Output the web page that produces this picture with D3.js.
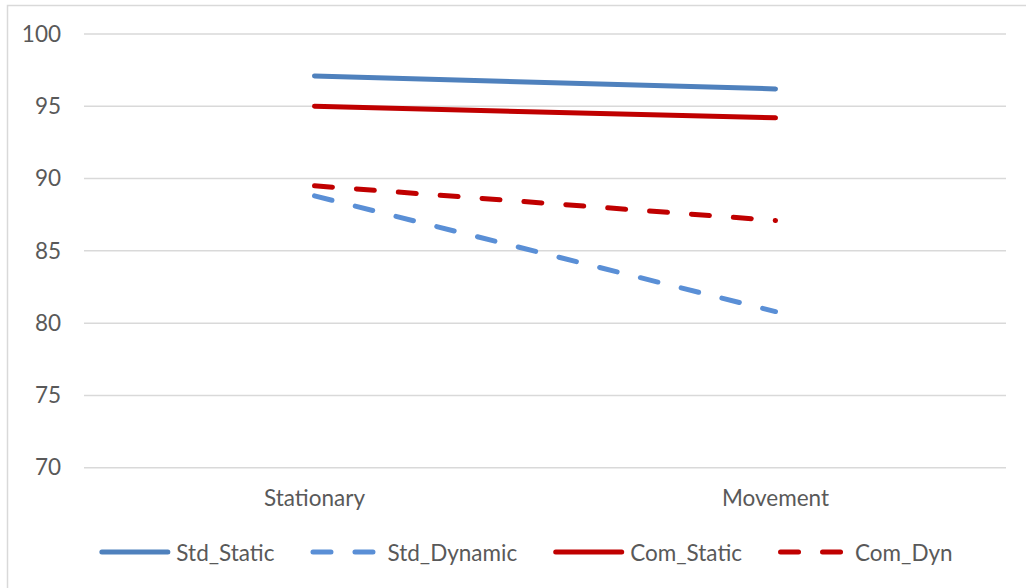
<!DOCTYPE html>
<html>
<head>
<meta charset="utf-8">
<script src="https://cdn.jsdelivr.net/npm/d3@7"></script>
<style>
  html, body { margin: 0; padding: 0; background: #fff; }
  svg { display: block; }
  text { font-family: Lato, "Open Sans", sans-serif; fill: #595959; }
</style>
</head>
<body>
<svg id="chart" width="1026" height="588"></svg>
<script>
// Conditions on the x axis
const categories = ["Stationary", "Movement"];

// Series values per condition
const stdStatic  = [97.1, 96.2];
const stdDynamic = [88.8, 80.8];
const comStatic  = [95.0, 94.2];
const comDyn     = [89.5, 87.1];

// Value axis ticks
const yTicks = [70, 75, 80, 85, 90, 95, 100];

const series = [
  { name: "Std_Static",  values: stdStatic,  color: "#4f81bd", dashed: false },
  { name: "Std_Dynamic", values: stdDynamic, color: "#5a8fd6", dashed: true  },
  { name: "Com_Static",  values: comStatic,  color: "#c00000", dashed: false },
  { name: "Com_Dyn",     values: comDyn,     color: "#c00000", dashed: true  }
];

const W = 1026, H = 588;
const plot = { left: 84, right: 1006, top: 34, bottom: 467.7 };
const lineWidth = 5;
const dash = "18,24";
const fontSize = 22.5;

const svg = d3.select("#chart");

// Outer chart frame
svg.append("rect")
  .attr("x", 7.5).attr("y", 5.5)
  .attr("width", W + 20).attr("height", H + 20)
  .attr("fill", "none").attr("stroke", "#d9d9d9").attr("stroke-width", 1.5);

const x = d3.scaleBand().domain(categories).range([plot.left, plot.right]);
const y = d3.scaleLinear().domain([70, 100]).range([plot.bottom, plot.top]);

// Horizontal gridlines
svg.append("g")
  .selectAll("line")
  .data(yTicks)
  .join("line")
  .attr("x1", plot.left).attr("x2", plot.right)
  .attr("y1", d => y(d)).attr("y2", d => y(d))
  .attr("stroke", "#d9d9d9").attr("stroke-width", 1.5);

// Value axis labels
const yAxis = d3.axisLeft(y).tickValues(yTicks).tickSize(0).tickPadding(0);
svg.append("g")
  .attr("transform", `translate(61,0)`)
  .call(yAxis)
  .call(g => g.select(".domain").remove())
  .call(g => g.selectAll("text")
    .attr("font-size", fontSize)
    .attr("font-family", "Lato, 'Open Sans', sans-serif")
    .attr("fill", "#595959"));

// Category axis labels
const xAxis = d3.axisBottom(x).tickSize(0).tickPadding(0);
svg.append("g")
  .attr("transform", `translate(0,490)`)
  .call(xAxis)
  .call(g => g.select(".domain").remove())
  .call(g => g.selectAll("text")
    .attr("font-size", fontSize)
    .attr("font-family", "Lato, 'Open Sans', sans-serif")
    .attr("fill", "#595959"));

// Series lines
const line = d3.line()
  .x((d, i) => x(categories[i]) + x.bandwidth() / 2)
  .y(d => y(d));

svg.append("g")
  .selectAll("path")
  .data(series)
  .join("path")
  .attr("d", d => line(d.values))
  .attr("fill", "none")
  .attr("stroke", d => d.color)
  .attr("stroke-width", lineWidth)
  .attr("stroke-linecap", "round")
  .attr("stroke-dasharray", d => d.dashed ? dash : null);

// Legend
const legendY = 552;
const slot = 77, gap = 36;
const legend = svg.append("g");
const items = legend.selectAll("g").data(series).join("g");
items.append("text")
  .attr("font-size", fontSize)
  .attr("dominant-baseline", "central")
  .attr("y", legendY)
  .text(d => d.name);
const widths = [];
items.select("text").each(function () { widths.push(this.getComputedTextLength()); });
const total = d3.sum(widths) + slot * series.length + gap * (series.length - 1);
let cursor = 526 - total / 2;
items.each(function (d, i) {
  const g = d3.select(this);
  g.append("line")
    .attr("x1", cursor + 2.5).attr("x2", cursor + 68.5)
    .attr("y1", legendY).attr("y2", legendY)
    .attr("stroke", d.color)
    .attr("stroke-width", lineWidth)
    .attr("stroke-linecap", "round")
    .attr("stroke-dasharray", d.dashed ? dash : null);
  g.select("text").attr("x", cursor + slot);
  cursor += slot + widths[i] + gap;
});
</script>
</body>
</html>
